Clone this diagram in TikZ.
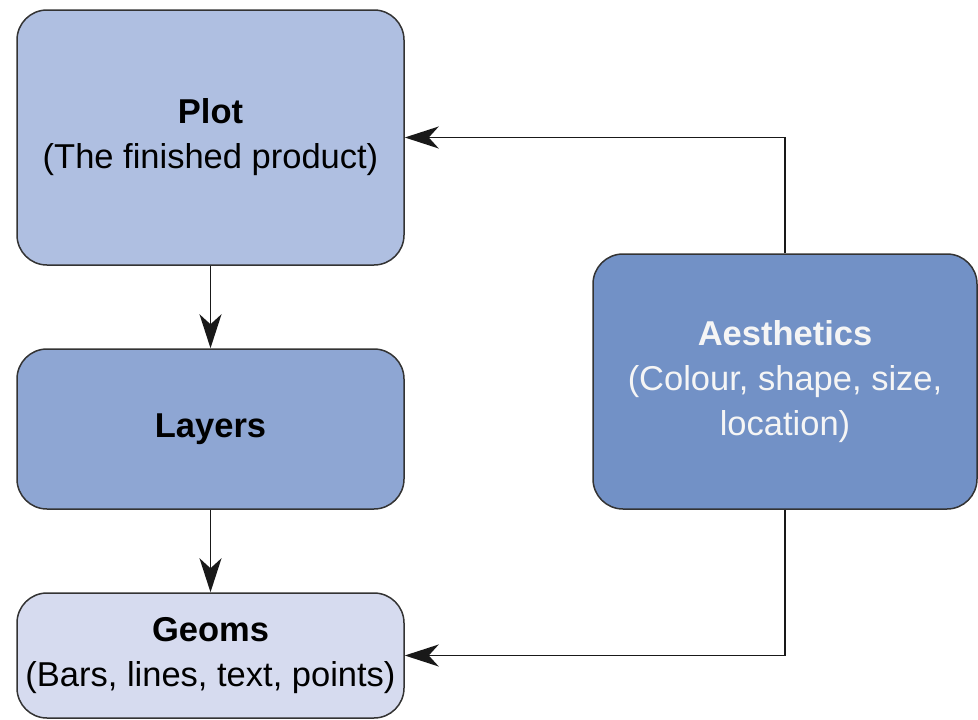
\documentclass[tikz,border=0pt]{standalone}
\usepackage{fontspec}
\setmainfont{Liberation Sans}
\usetikzlibrary{arrows.meta}
\definecolor{plotfill}{HTML}{AFBFE1}
\definecolor{layerfill}{HTML}{8EA6D3}
\definecolor{geomfill}{HTML}{D6DBEF}
\definecolor{aesfill}{HTML}{7291C6}
\definecolor{edge}{HTML}{333333}
\begin{document}
\begin{tikzpicture}[x=1pt,y=-1pt,
  box/.style={draw=edge, line width=1.5pt, rounded corners=30pt, align=center,
    inner sep=0pt, font=\fontsize{34.5}{45}\selectfont},
  conn/.style={draw=black!90, line width=1.5pt,
    -{Stealth[length=34pt,width=22pt,inset=10pt]}}
]
\useasboundingbox (0,0) rectangle (978,720);
\node[box, fill=plotfill, minimum width=387pt, minimum height=255pt] (plot) at (210.5,137.5)
  {\textbf{Plot}\\(The finished product)};
\node[box, fill=layerfill, minimum width=387pt, minimum height=160pt] (layers) at (210.5,429)
  {\textbf{Layers}};
\node[box, fill=geomfill, minimum width=387pt, minimum height=125pt] (geoms) at (210.5,655.5)
  {\textbf{Geoms}\\(Bars, lines, text, points)};
\node[box, fill=aesfill, text=white!96!black, minimum width=384pt, minimum height=255pt] (aes) at (785,381.5)
  {\textbf{Aesthetics}\\(Colour, shape, size,\\location)};
\draw[conn] (plot.south) -- (layers.north);
\draw[conn] (layers.south) -- (geoms.north);
\draw[conn] (aes.north) |- (plot.east);
\draw[conn] (aes.south) |- (geoms.east);
\end{tikzpicture}
\end{document}
